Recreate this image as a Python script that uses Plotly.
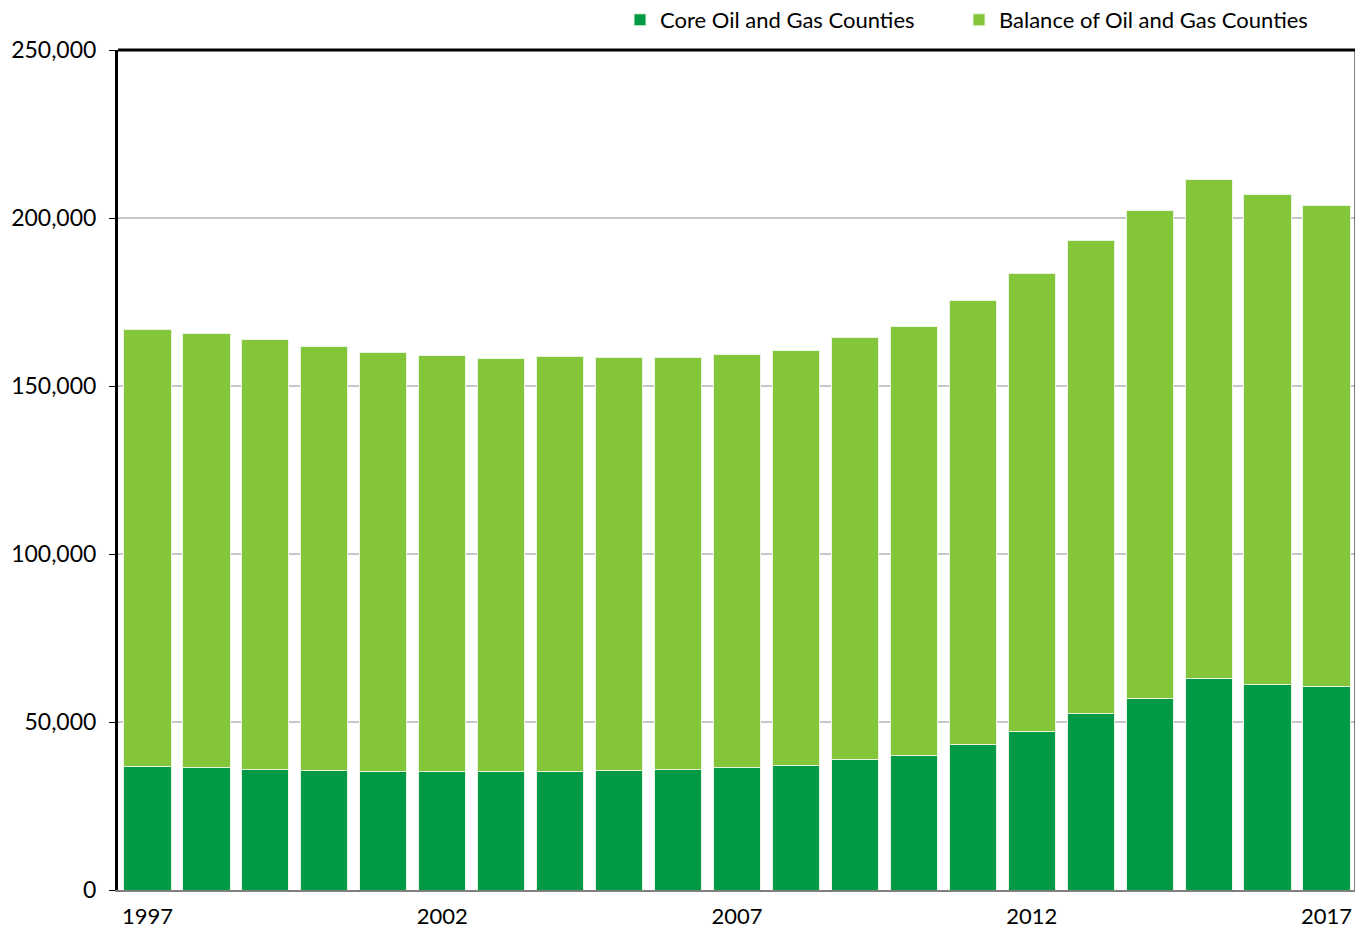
import plotly.graph_objects as go

years = [str(y) for y in range(1997, 2018)]
total = [166700, 165500, 163700, 161900, 160100, 159200, 158300, 158900, 158600, 158600,
         159500, 160700, 164300, 167600, 175300, 183600, 193200, 202100, 211600, 207100, 203600]
core = [36900, 36600, 36000, 35700, 35400, 35400, 35400, 35400, 35700, 36000,
        36600, 37200, 38700, 39900, 43200, 47300, 52400, 57100, 62800, 61300, 60700]
balance = [t - c for t, c in zip(total, core)]
tick_years = ["1997", "2002", "2007", "2012", "2017"]

# page body adds an 8px offset, so the figure is sized to fit inside it
W, H = 1355, 922
plot_h = H - 42 - 40

fig = go.Figure()
fig.add_trace(go.Bar(
    x=years, y=core, name="Core Oil and Gas Counties",
    marker=dict(color="#009A44", line=dict(color="#E8F5E0", width=1)),
    legend="legend", showlegend=True,
))
fig.add_trace(go.Bar(
    x=years, y=balance, name="Balance of Oil and Gas Counties",
    marker=dict(color="#84C63A", line=dict(color="#E8F5E0", width=1)),
    legend="legend2", showlegend=True,
))

legend_style = dict(
    orientation="h", xref="container", xanchor="left",
    yref="paper", y=1 + 30 / plot_h, yanchor="middle",
    font=dict(size=22), itemwidth=30, bgcolor="rgba(0,0,0,0)",
)

fig.update_layout(
    barmode="stack",
    bargap=0.2,
    width=W,
    height=H,
    showlegend=True,
    plot_bgcolor="white",
    paper_bgcolor="white",
    font=dict(family="Lato, Open Sans, sans-serif", size=22, color="black"),
    margin=dict(l=110, r=7, t=42, b=40, autoexpand=False),
    legend=dict(x=612 / W, **legend_style),
    legend2=dict(x=951 / W, **legend_style),
    xaxis=dict(
        tickmode="array", tickvals=tick_years, ticktext=tick_years,
        showgrid=False, showline=True, linecolor="#808080", linewidth=2,
        ticks="", range=[-0.5, 20.5], automargin=False, ticklabelstandoff=6,
    ),
    yaxis=dict(
        range=[0, 250000], dtick=50000, tickformat=",",
        tickfont=dict(size=23),
        showgrid=True, gridcolor="#C8C8C8", gridwidth=2,
        showline=True, linecolor="black", linewidth=3,
        ticks="outside", ticklen=6, tickcolor="black", zeroline=False,
        ticklabelstandoff=8, automargin=False,
    ),
    shapes=[
        dict(type="line", xref="paper", yref="paper", x0=0, x1=1, y0=1, y1=1,
             line=dict(color="black", width=3)),
        dict(type="line", xref="paper", yref="paper", x0=1, x1=1, y0=0, y1=1,
             line=dict(color="black", width=3)),
    ],
)

fig.write_html("out.html")
